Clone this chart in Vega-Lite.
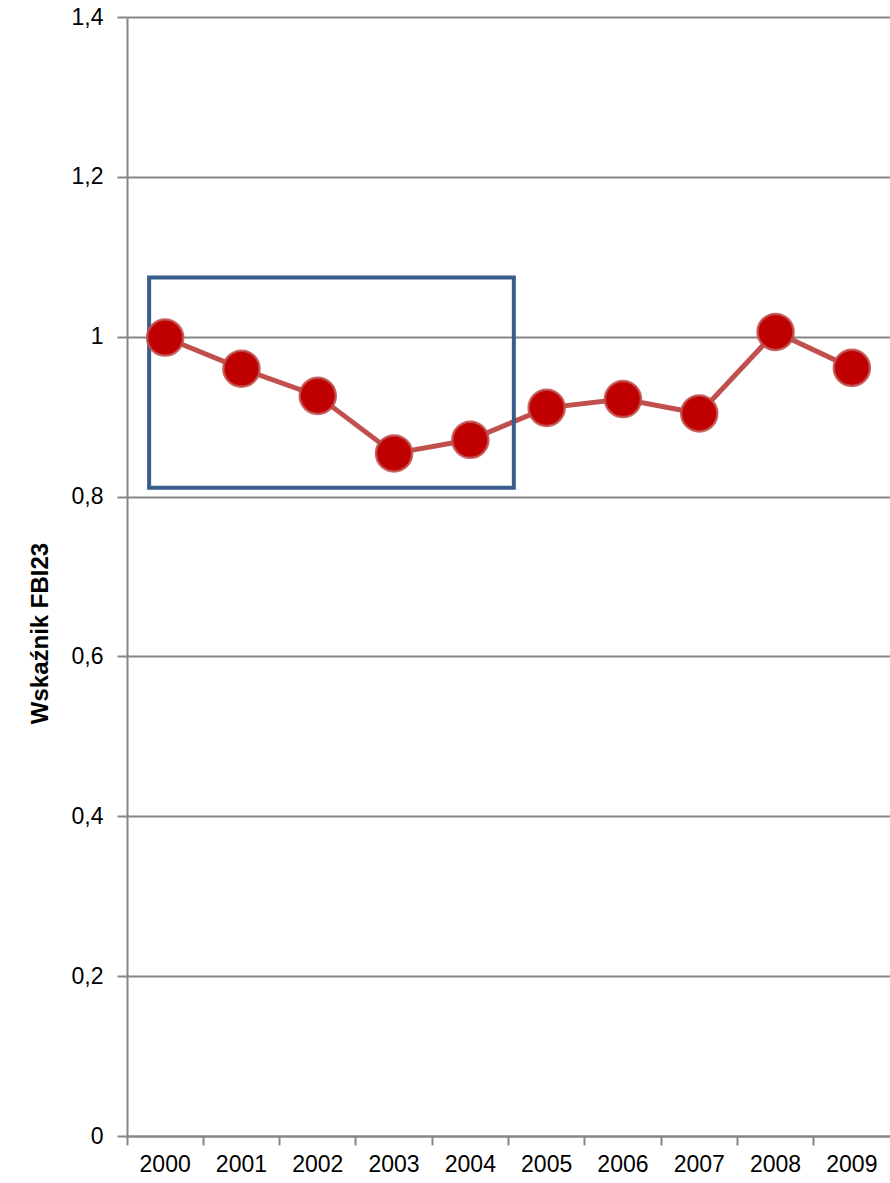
{
  "$schema": "https://vega.github.io/schema/vega-lite/v6.json",
  "autosize": "none",
  "width": 763,
  "height": 1119,
  "padding": {"left": 127, "top": 17, "right": 0, "bottom": 47},
  "background": "white",
  "config": {
    "view": {"stroke": null},
    "font": "Liberation Sans",
    "axis": {
      "labelFont": "Liberation Sans",
      "labelFontSize": 23,
      "labelColor": "#000000",
      "domainColor": "#868686",
      "domainWidth": 2,
      "tickColor": "#868686",
      "tickWidth": 2,
      "gridColor": "#868686",
      "gridWidth": 2
    }
  },
  "datasets": {
    "fbi": [
      {"rok": "2000", "wskaznik": 0.999},
      {"rok": "2001", "wskaznik": 0.960},
      {"rok": "2002", "wskaznik": 0.926},
      {"rok": "2003", "wskaznik": 0.854},
      {"rok": "2004", "wskaznik": 0.871},
      {"rok": "2005", "wskaznik": 0.911},
      {"rok": "2006", "wskaznik": 0.922},
      {"rok": "2007", "wskaznik": 0.904},
      {"rok": "2008", "wskaznik": 1.006},
      {"rok": "2009", "wskaznik": 0.961}
    ],
    "ramka": [
      {"od": 0.29, "do": 5.07, "dol": 0.811, "gora": 1.074}
    ]
  },
  "layer": [
    {
      "data": {"name": "fbi"},
      "mark": {"type": "line", "color": "#C0504D", "strokeWidth": 5},
      "encoding": {
        "x": {
          "field": "rok",
          "type": "ordinal",
          "scale": {"type": "band", "paddingInner": 0, "paddingOuter": 0},
          "axis": {
            "title": null,
            "bandPosition": 0,
            "ticks": true,
            "tickSize": 9,
            "labelPadding": 8,
            "labelAngle": 0,
            "grid": false,
            "labelBound": false,
            "labelOverlap": false
          }
        },
        "y": {
          "field": "wskaznik",
          "type": "quantitative",
          "scale": {"domain": [0, 1.4], "nice": false, "zero": true},
          "axis": {
            "values": [0, 0.2, 0.4, 0.6, 0.8, 1, 1.2, 1.4],
            "labelExpr": "replace(format(datum.value, '~g'), '.', ',')",
            "grid": true,
            "tickSize": 10,
            "labelPadding": 14,
            "title": "Wskaźnik FBI23",
            "titleFont": "Liberation Sans",
            "titleFontSize": 24,
            "titleFontWeight": "bold",
            "titleColor": "#000000",
            "titleX": -80,
            "titleY": 616,
            "titleAlign": "center",
            "titleBaseline": "alphabetic",
            "titleAngle": -90
          }
        }
      }
    },
    {
      "data": {"name": "ramka"},
      "mark": {"type": "rect", "fill": "transparent", "stroke": "#385D8A", "strokeWidth": 4},
      "encoding": {
        "x": {"field": "od", "type": "quantitative", "scale": {"domain": [0, 10], "nice": false, "zero": true}, "axis": null},
        "x2": {"field": "do"},
        "y": {"field": "dol", "type": "quantitative", "axis": null},
        "y2": {"field": "gora"}
      }
    },
    {
      "data": {"name": "fbi"},
      "mark": {"type": "point", "filled": true, "fill": "#C00000", "stroke": "#C0504D", "strokeWidth": 2.5, "strokeOpacity": 0.85, "size": 1300, "opacity": 1},
      "encoding": {
        "x": {"field": "rok", "type": "ordinal", "scale": {"type": "band", "paddingInner": 0, "paddingOuter": 0}, "axis": null},
        "y": {"field": "wskaznik", "type": "quantitative", "axis": null}
      }
    }
  ],
  "resolve": {"scale": {"x": "independent"}, "axis": {"x": "independent", "y": "independent"}}
}
